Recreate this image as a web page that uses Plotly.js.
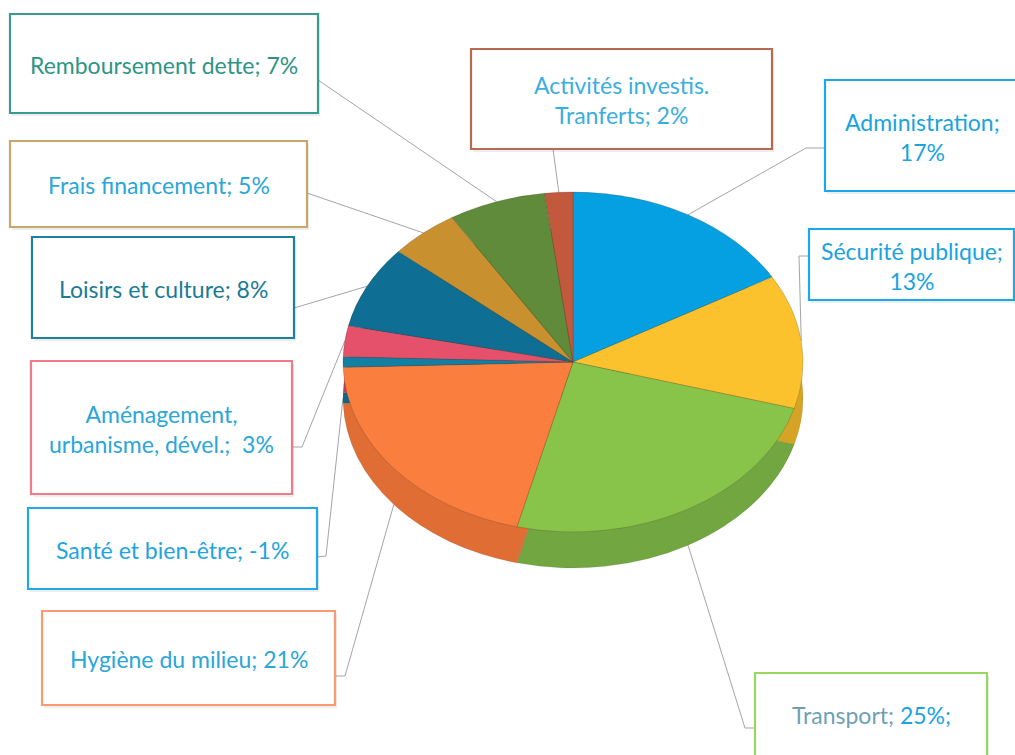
<!DOCTYPE html>
<html>
<head>
<meta charset="utf-8">
<script src="https://cdn.plot.ly/plotly-3.0.1.min.js"></script>
<style>
  html, body { margin: 0; padding: 0; background: #ffffff; }
  #chart { width: 1015px; height: 755px; }
</style>
</head>
<body>
<div id="chart"></div>
<script>
// ---------- DATA ----------
const categories = [
  'Administration', 'Sécurité publique', 'Transport', 'Hygiène du milieu',
  'Santé et bien-être', 'Aménagement, urbanisme, dével.', 'Loisirs et culture',
  'Frais financement', 'Remboursement dette', 'Activités investis. Tranferts'
];
const percents = [17, 13, 25, 21, -1, 3, 8, 5, 7, 2];
const sliceColors = ['#05a0e2', '#fcc22e', '#88c34a', '#fa7e3e', '#137fa3',
                     '#e5506a', '#0f6e93', '#c8902f', '#5f8b3b', '#c2593d'];
const sideColors  = ['#0383b8', '#d6a424', '#72a640', '#e06d34', '#0f6785',
                     '#be3f55', '#0b5878', '#a57526', '#4c7030', '#9e4731'];

// ---------- LAYOUT CONFIG ----------
const W = 1015, H = 755;
const cx = 573, cy = 362, rx = 230, ry = 170, depth = 36;

// label boxes: [x0, y0, x1, y1], border colour, text colour, leader path start points
const boxes = [
  { box: [825, 80, 1020, 191],  border: '#1aa8e8', color: '#1aa3e0',
    text: (c, p) => c + ';<br>' + p + '%', lead: [[825, 148], [806, 148]] },
  { box: [809, 229, 1014, 300], border: '#1aa8e8', color: '#1aa3e0',
    text: (c, p) => c + ';<br>' + p + '%', lead: [[809, 256], [799, 256]] },
  { box: [755, 673, 987, 765],  border: '#98d860', color: '#1aa3e0',
    text: (c, p) => '<span style="color:#6f9fb3">' + c + ';</span> ' + p + '%;', lead: [[755, 728], [745, 728]] },
  { box: [42, 611, 335, 705],   border: '#f99a70', color: '#2aa6d9',
    text: (c, p) => c + '; ' + p + '%', lead: [[335, 676], [345, 676]] },
  { box: [28, 508, 317, 589],   border: '#20a8e8', color: '#1ea5e0',
    text: (c, p) => c + '; ' + p + '%', lead: [[317, 557], [326, 556]] },
  { box: [31, 361, 292, 494],   border: '#f07a85', color: '#2aa6d9',
    text: (c, p) => c.replace(', u', ',<br>u') + ';  ' + p + '%', lead: [[292, 447], [302, 447]] },
  { box: [32, 237, 294, 338],   border: '#1f7f9e', color: '#1a7b96',
    text: (c, p) => c + '; ' + p + '%', lead: [[294, 308]] },
  { box: [10, 141, 307, 227],   border: '#c9a66b', color: '#2aa6d9',
    text: (c, p) => c + '; ' + p + '%', lead: [[307, 193]] },
  { box: [10, 14, 318, 113],    border: '#3a9a8c', color: '#2e9585',
    text: (c, p) => c + '; ' + p + '%', lead: [[318, 80]] },
  { box: [471, 49, 772, 149],   border: '#b86a50', color: '#3aaee0',
    text: (c, p) => c.replace('. ', '.<br>') + '; ' + p + '%', lead: [[553, 149]] }
];

// ---------- BUILD ----------
const sizes = percents.map(v => Math.abs(v));
const total = sizes.reduce((a, b) => a + b, 0);

const domain = {
  x: [(cx - rx) / W, (cx + rx) / W],
  y: [(H - cy - rx) / H, (H - cy + rx) / H]
};

const pieBase = {
  type: 'pie', labels: categories, values: sizes, sort: false,
  direction: 'clockwise', rotation: 0, textinfo: 'none', hoverinfo: 'skip',
  showlegend: false, domain: domain
};

const traces = [
  Object.assign({}, pieBase, { marker: { colors: sideColors, line: { color: 'rgba(40,40,40,0.2)', width: 0.6 } } }),
  Object.assign({}, pieBase, { marker: { colors: sliceColors, line: { color: 'rgba(60,50,40,0.35)', width: 0.7 } } })
];

// anchor points on the pie edge at each slice's mid angle
let cum = 0;
const anchors = sizes.map(v => {
  const mid = (cum + v / 2) / total * 2 * Math.PI;
  cum += v;
  const front = Math.cos(mid) < 0;
  return [cx + rx * Math.sin(mid), cy - ry * Math.cos(mid) + (front ? depth : 0)];
});

const shapes = [];
const annotations = [];
boxes.forEach((b, i) => {
  const [x0, y0, x1, y1] = b.box;
  const pts = b.lead.concat([anchors[i]]);
  shapes.push({
    type: 'path', xref: 'x', yref: 'y', layer: 'below',
    path: 'M' + pts.map(p => p[0] + ',' + p[1]).join(' L'),
    line: { color: '#a4a4aa', width: 1 }
  });
  shapes.push({
    type: 'rect', xref: 'x', yref: 'y', layer: 'below',
    x0: x0 + 2, y0: y0 + 3, x1: x1 + 2, y1: y1 + 3,
    fillcolor: 'rgba(0,0,0,0.07)', line: { width: 0 }
  });
  shapes.push({
    type: 'rect', xref: 'x', yref: 'y', layer: 'below',
    x0: x0, y0: y0, x1: x1, y1: y1,
    fillcolor: '#ffffff', line: { color: b.border, width: 2.2 }
  });
  annotations.push({
    xref: 'x', yref: 'y', x: (x0 + Math.min(x1, W + 5)) / 2, y: (y0 + Math.min(y1, H)) / 2 + 1,
    xanchor: 'center', yanchor: 'middle', showarrow: false, align: 'center',
    text: b.text(categories[i], percents[i]),
    font: { family: 'Lato, "Open Sans", sans-serif', size: 23, color: b.color }
  });
});

const layout = {
  width: W, height: H,
  margin: { l: 0, r: 0, t: 0, b: 0 },
  paper_bgcolor: '#ffffff', plot_bgcolor: '#ffffff',
  xaxis: { range: [0, W], visible: false, fixedrange: true },
  yaxis: { range: [H, 0], visible: false, fixedrange: true },
  shapes: shapes,
  annotations: annotations,
  showlegend: false
};

Plotly.newPlot('chart', traces, layout, { staticPlot: true, responsive: false }).then(gd => {
  const k = ry / rx;
  const groups = gd.querySelectorAll('.pielayer g.trace');
  groups.forEach((g, idx) => {
    const dy = idx === 0 ? depth : 0;
    g.setAttribute('transform',
      'translate(0,' + (cy + dy) + ') scale(1,' + k + ') translate(0,' + (-cy) + ')');
  });
});
</script>
</body>
</html>
